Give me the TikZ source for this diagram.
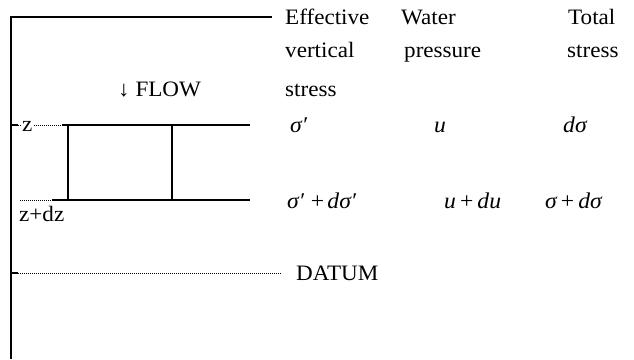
\documentclass[tikz,border=0pt]{standalone}
\usepackage{fontspec}
\setmainfont[FakeStretch=1.05]{Liberation Serif}
\begin{document}
\begin{tikzpicture}[x=1pt,y=-1pt,
  txt/.style={anchor=base west, inner sep=0pt, font=\fontsize{22}{22}\selectfont},
  mth/.style={anchor=base west, inner sep=0pt, font=\fontsize{22.5}{22.5}\selectfont\itshape},
  solidln/.style={line width=1.1pt, line cap=butt},
  dotln/.style={line width=0.6pt, dash pattern=on 1pt off 1pt}]
\useasboundingbox (0,0) rectangle (634,359);
% axis
\coordinate (axtop) at (11,17);
\coordinate (axbot) at (11,359);
\coordinate (topend) at (272,17);
\draw[solidln] (topend) -- (axtop) -- (axbot);
% header texts
\node[txt] (h1a) at (285,24) {Effective};
\node[txt] (h1b) at (285,57) {vertical};
\node[txt] (h1c) at (285,96) {stress};
\node[txt] (h2a) at (401,24) {Water};
\node[txt] (h2b) at (404,57) {pressure};
\node[txt] (h3a) at (568,24) {Total};
\node[txt] (h3b) at (567,57) {stress};
\node[txt] (flow) at (118,96) {↓ FLOW};
% z line
\coordinate (zl0) at (11,125);
\coordinate (zl1) at (18,125);
\coordinate (zl2) at (62,125);
\coordinate (zl3) at (250,125);
\draw[solidln] (zl0) -- (zl1);
\draw[dotln] (zl1) -- (zl2);
\draw[solidln] (zl2) -- (zl3);
\node[txt, fill=white, inner sep=1pt] (zlab) at (21,131) {z};
% z+dz line
\coordinate (dl0) at (20,200);
\coordinate (dl1) at (52,200);
\coordinate (dl2) at (250,200);
\draw[dotln] (dl0) -- (dl1);
\draw[solidln] (dl1) -- (dl2);
\node[txt] (dzlab) at (19,221) {z+dz};
% box sides
\coordinate (b1t) at (68,125);
\coordinate (b1b) at (68,200);
\coordinate (b2t) at (172,125);
\coordinate (b2b) at (172,200);
\draw[solidln] (b1t) -- (b1b);
\draw[solidln] (b2t) -- (b2b);
% datum
\coordinate (da0) at (11,273);
\coordinate (da1) at (18,273);
\coordinate (da2) at (282,273);
\draw[solidln] (da0) -- (da1);
\draw[dotln] (da1) -- (da2);
\node[txt] (datum) at (296,280) {DATUM};
% values row 1
\node[mth] (r1a) at (290,132) {σ′};
\node[mth] (r1b) at (434,132) {u};
\node[mth] (r1c) at (563,132) {dσ};
% values row 2
\node[mth] (r2a) at (287,208) {σ′\hspace{0.3em}{\upshape +}\hspace{0.15em}dσ′};
\node[mth] (r2b) at (444,208) {u\hspace{0.18em}{\upshape +}\hspace{0.18em}du};
\node[mth] (r2c) at (545,208) {σ\hspace{0.18em}{\upshape +}\hspace{0.18em}dσ};
\end{tikzpicture}
\end{document}
